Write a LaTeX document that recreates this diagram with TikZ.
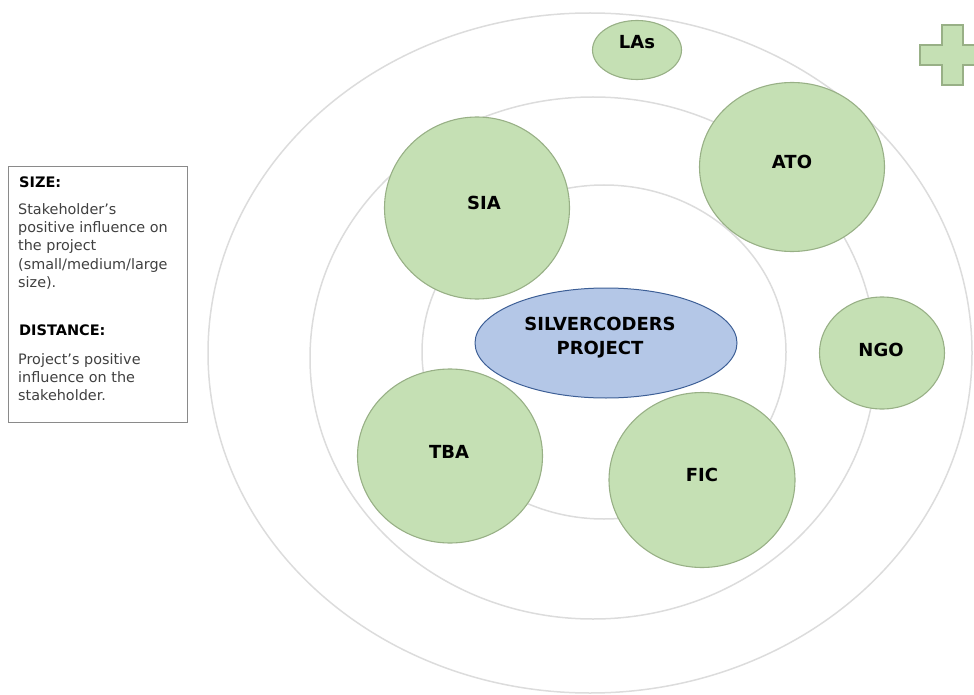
\documentclass[tikz,border=0pt]{standalone}
\usepackage{fontspec}
\setmainfont{DejaVu Sans}
\usetikzlibrary{shapes.geometric}
\definecolor{ringgray}{HTML}{DCDCDC}
\definecolor{stakefill}{HTML}{C5E0B4}
\definecolor{stakeline}{HTML}{98B086}
\definecolor{projfill}{HTML}{B4C7E7}
\definecolor{projline}{HTML}{3D5F96}
\definecolor{legendtext}{HTML}{404040}
\definecolor{legendline}{HTML}{8A8A8A}
\begin{document}
\begin{tikzpicture}[x=1pt,y=-1pt,
  ring/.style={draw=ringgray, line width=1.5pt},
  stake/.style={ellipse, draw=stakeline, fill=stakefill, line width=1.1pt, inner sep=0pt},
  project/.style={ellipse, draw=projline, fill=projfill, line width=1pt, inner sep=0pt},
  lbl/.style={font=\fontsize{18}{24}\selectfont\bfseries, text=black, inner sep=0pt, align=center},
  legendhead/.style={font=\fontsize{14.5}{18}\selectfont\bfseries, text=black, anchor=north west, inner sep=0pt},
  legendbody/.style={font=\fontsize{14.4}{18.4}\selectfont, text=legendtext, anchor=north west, inner sep=0pt, align=left},
]
\useasboundingbox (0,0) rectangle (974,695);
\clip (0,0) rectangle (974,695);

% concentric influence rings
\draw[ring] (590,353) ellipse [x radius=382, y radius=340];
\draw[ring] (593,358) ellipse [x radius=283, y radius=261];
\draw[ring] (604,352) ellipse [x radius=182, y radius=167];

% the project at the centre
\node[project, minimum width=262, minimum height=110] (proj) at (606,343) {};
\node[lbl] (projtxt) at (600,338) {SILVERCODERS\\PROJECT};

% stakeholders
\node[stake, minimum width=89,  minimum height=59]  (las) at (637,50)  {};
\node[stake, minimum width=185, minimum height=182] (sia) at (477,208) {};
\node[stake, minimum width=185, minimum height=169] (ato) at (792,167) {};
\node[stake, minimum width=125, minimum height=112] (ngo) at (882,353) {};
\node[stake, minimum width=185, minimum height=174] (tba) at (450,456) {};
\node[stake, minimum width=186, minimum height=175] (fic) at (702,480) {};

\node[lbl] (lastxt) at (637,42)  {LAs};
\node[lbl] (siatxt) at (484,203) {SIA};
\node[lbl] (atotxt) at (792,162) {ATO};
\node[lbl] (ngotxt) at (881,350) {NGO};
\node[lbl] (tbatxt) at (449,452) {TBA};
\node[lbl] (fictxt) at (702,475) {FIC};

% plus sign in the corner
\draw[draw=stakeline, fill=stakefill, line width=1.1pt]
  (942,25) -- (963,25) -- (963,45) -- (985,45) -- (985,65) -- (963,65)
  -- (963,85) -- (942,85) -- (942,65) -- (920,65) -- (920,45) -- (942,45) -- cycle;

% legend
\node[draw=legendline, line width=0.8pt, minimum width=179, minimum height=256,
      anchor=north west, inner sep=0pt] (legend) at (8,166) {};
\node[legendhead] (sizehead) at (19,177) {SIZE:};
\node[legendbody] (sizebody) at (18,203)
  {Stakeholder’s\\positive influence on\\the project\\(small/medium/large\\size).};
\node[legendhead] (disthead) at (19,325) {DISTANCE:};
\node[legendbody] (distbody) at (18,353)
  {Project’s positive\\influence on the\\stakeholder.};
\end{tikzpicture}
\end{document}
